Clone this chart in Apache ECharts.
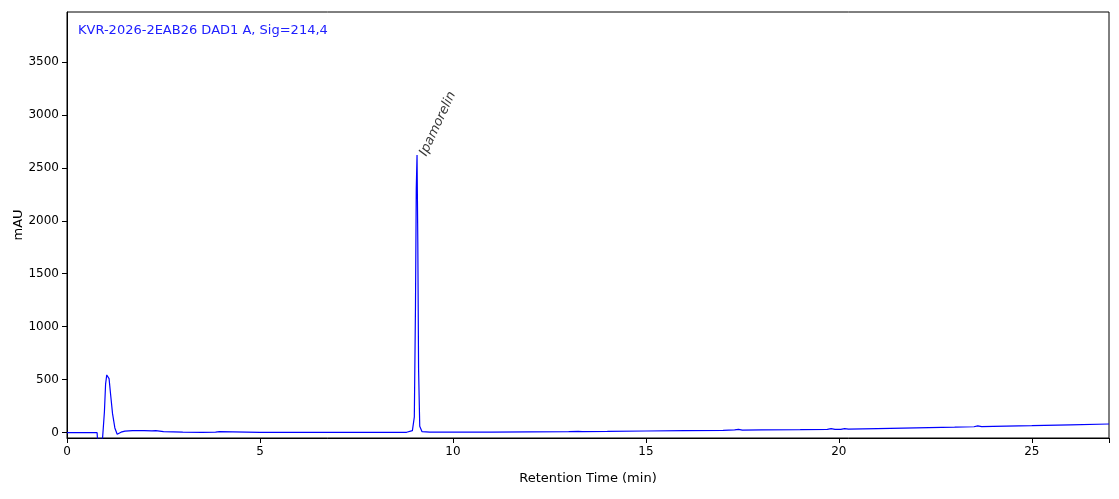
<!DOCTYPE html>
<html>
<head>
<meta charset="utf-8">
<script src="https://cdn.jsdelivr.net/npm/echarts@6/dist/echarts.min.js"></script>
<style>
  html, body { margin: 0; padding: 0; background: #fff; }
  #chart { width: 1119px; height: 499px; }
</style>
</head>
<body>
<div id="chart"></div>
<script>
// 色谱图数据
var title = 'KVR-2026-2EAB26 DAD1 A, Sig=214,4';
var peakName = 'Ipamorelin';
var peakPoint = [9.07, 2620];

var times = [0, 0.78, 0.79, 0.92, 0.97, 1.0, 1.03, 1.06, 1.09, 1.13, 1.18, 1.24, 1.3, 1.34, 1.4, 1.5, 1.7, 2.0, 2.2, 2.3, 2.35, 2.5,
  3.0, 3.5, 3.85, 3.9, 3.95, 4.0, 5, 6, 7, 8, 8.8, 8.95, 9.0, 9.03, 9.05, 9.07, 9.09, 9.11, 9.14, 9.2, 9.4,
  10, 11, 12, 13, 13.25, 13.3, 13.35, 14, 15, 16, 17, 17.3, 17.4, 17.5, 18, 19, 19.7, 19.8, 19.9, 20.05, 20.15, 20.25,
  21, 22, 23, 23.5, 23.6, 23.7, 24, 25, 26, 27];
var signal = [0, 0, -60, -60, 200, 460, 545, 552, 510, 360, 180, 45, -15, -10, 5, 15, 20, 20, 18, 20, 15, 10,
  5, 4, 5, 12, 10, 6, 4, 3, 3, 3, 4, 20, 150, 1200, 2300, 2620, 1800, 600, 60, 10, 5,
  5, 6, 8, 10, 12, 16, 11, 12, 16, 19, 22, 26, 32, 24, 26, 29, 32, 38, 31, 32, 39, 33,
  38, 45, 52, 56, 64, 57, 60, 66, 74, 82];

var xTicks = [0, 5, 10, 15, 20, 25];
var yTicks = [0, 500, 1000, 1500, 2000, 2500, 3000, 3500];

var chart = echarts.init(document.getElementById('chart'));

var pts = [];
for (var i = 0; i < times.length; i++) {
  pts.push([times[i], signal[i]]);
}

var option = {
  animation: false,
  textStyle: { fontFamily: 'DejaVu Sans' },
  grid: {
    left: 67, right: 10, top: 12, bottom: 61,
    containLabel: false,
    outerBoundsMode: 'none',
    show: true, borderColor: '#000', borderWidth: 1
  },
  title: {
    text: title,
    left: 73, top: 19,
    textStyle: { color: '#2020ff', fontSize: 13, fontWeight: 'normal', fontFamily: 'DejaVu Sans' }
  },
  xAxis: {
    type: 'value',
    min: 0, max: 27, interval: 5,
    name: 'Retention Time (min)',
    nameLocation: 'middle',
    nameGap: 34,
    nameTextStyle: { color: '#000', fontSize: 13 },
    axisLine: { onZero: false, lineStyle: { color: '#000' } },
    axisTick: { show: true, length: 5, lineStyle: { color: '#000' } },
    axisLabel: {
      color: '#000', fontSize: 12,
      formatter: function (v) { return xTicks.indexOf(v) >= 0 ? String(v) : ''; }
    },
    splitLine: { show: false }
  },
  yAxis: {
    type: 'value',
    min: -50, max: 3970,
    name: 'mAU',
    nameLocation: 'middle',
    nameGap: 42,
    nameMoveOverlap: false,
    nameTextStyle: { color: '#000', fontSize: 13 },
    axisLine: { onZero: false, lineStyle: { color: '#000' } },
    axisTick: {
      show: true, length: 5, lineStyle: { color: '#000' },
      customValues: yTicks
    },
    axisLabel: {
      color: '#000', fontSize: 12,
      customValues: yTicks,
      formatter: function (v) { return String(v); }
    },
    splitLine: { show: false }
  },
  series: [
    {
      name: 'DAD1 A',
      type: 'line',
      data: pts,
      showSymbol: false,
      symbol: 'none',
      lineStyle: { color: '#0000ff', width: 1.2 },
      clip: true
    },
    {
      name: peakName,
      type: 'scatter',
      data: [peakPoint],
      symbolSize: 0,
      label: {
        show: true,
        formatter: peakName,
        position: [12, 3],
        align: 'left',
        verticalAlign: 'bottom',
        rotate: 65,
        fontStyle: 'italic',
        fontSize: 13,
        color: '#000',
        fontFamily: 'DejaVu Sans'
      }
    }
  ]
};

chart.setOption(option);
</script>
</body>
</html>
